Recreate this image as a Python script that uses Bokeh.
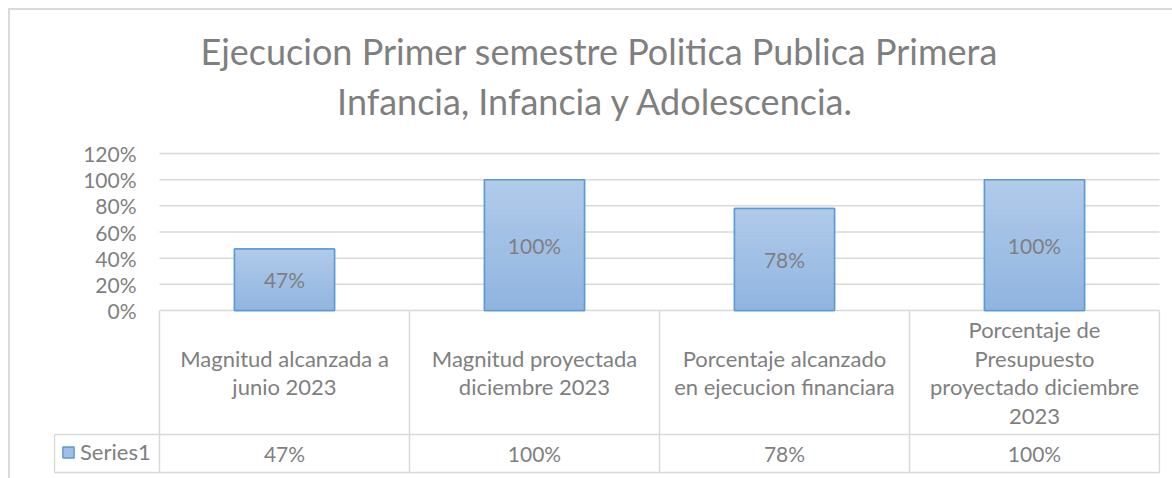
from bokeh.plotting import figure
from bokeh.models import (Range1d, FixedTicker, NumeralTickFormatter,
                          ColumnDataSource, Legend, LegendItem, Title)
from bokeh.core.properties import value
from bokeh.embed import file_html
from bokeh.resources import INLINE

# ---------------- data ----------------
categories = [
    "Magnitud alcanzada a junio 2023",
    "Magnitud proyectada diciembre 2023",
    "Porcentaje alcanzado en ejecucion financiara",
    "Porcentaje de Presupuesto proyectado diciembre 2023",
]
category_labels = [
    "Magnitud alcanzada a\njunio 2023",
    "Magnitud proyectada\ndiciembre 2023",
    "Porcentaje alcanzado\nen ejecucion financiara",
    "Porcentaje de\nPresupuesto\nproyectado diciembre\n2023",
]
series_name = "Series1"
series_values = [0.47, 1.00, 0.78, 1.00]
y_ticks = [0.0, 0.2, 0.4, 0.6, 0.8, 1.0, 1.2]
title_lines = ["Ejecucion Primer semestre Politica Publica Primera",
               "Infancia, Infancia y Adolescencia."]

# ---------------- style / layout (pixels) ----------------
FONT = "Lato"
TXT = "#7f7f7f"
GRID = "#d9d9d9"
BAR_LINE = "#5b9bd5"
TOP_RGB = (178, 203, 234)
BOT_RGB = (143, 180, 224)

W, H = 1172, 478
CELL_PX = 250.0              # width of one category column
PLOT_LEFT = 159              # x of value 0 column edge
FRAME_LEFT = 53
FRAME_RIGHT = 1160
FRAME_TOP = 88
FRAME_BOTTOM = 474
ZERO_Y = 310                 # pixel row of 0%
PLOT_PX = 157.0              # pixels for 0..1.2
KEY_LEFT = 54                # left edge of legend-key cell
ROW1_PX, ROW2_PX = 124.0, 38.0
TITLE_CX = 595.5             # horizontal centre of the title
TITLE2_BASE = 100            # anchor row of the second title line

PX_PER_UNIT = PLOT_PX / y_ticks[-1]
n = len(categories)
xc = [i + 0.5 for i in range(n)]
x_start = -(PLOT_LEFT - FRAME_LEFT) / CELL_PX
x_end = (FRAME_RIGHT - PLOT_LEFT) / CELL_PX
x_key = -(PLOT_LEFT - KEY_LEFT) / CELL_PX
y_end = (ZERO_Y - FRAME_TOP) / PX_PER_UNIT
y_start = -(FRAME_BOTTOM - ZERO_Y) / PX_PER_UNIT
y_row = -ROW1_PX / PX_PER_UNIT
y_bot = -(ROW1_PX + ROW2_PX) / PX_PER_UNIT

border_css = "linear-gradient(#dadada, #dadada)"
p = figure(width=W, height=H, output_backend="svg", toolbar_location=None,
           x_range=Range1d(x_start, x_end), y_range=Range1d(y_start, y_end),
           x_axis_location=None,
           min_border_left=FRAME_LEFT, min_border_right=W - FRAME_RIGHT,
           min_border_top=FRAME_TOP, min_border_bottom=H - FRAME_BOTTOM,
           background_fill_color="white", border_fill_color=None,
           styles={"background-color": "white",
                   "background-image": f"{border_css}, {border_css}",
                   "background-repeat": "no-repeat",
                   "background-position": "8px 8px, 8px 8px",
                   "background-size": "2px 470px, 1164px 2px"})
p.outline_line_color = None
p.grid.visible = False

# title line 1 as the plot title, line 2 just below it
p.add_layout(Title(text=title_lines[0], align="left", offset=200 - FRAME_LEFT,
                   standoff=32, text_font=FONT, text_font_size="36px",
                   text_font_style="normal", text_color=TXT), "above")
p.text(x=[(TITLE_CX - PLOT_LEFT) / CELL_PX], y=[(ZERO_Y - TITLE2_BASE) / PX_PER_UNIT],
       text=[title_lines[1]], text_align="center", text_baseline="alphabetic",
       text_font=value(FONT), text_font_size="36px", text_color=TXT)

yax = p.yaxis[0]
yax.fixed_location = 0
yax.ticker = FixedTicker(ticks=y_ticks)
yax.formatter = NumeralTickFormatter(format="0%")
yax.axis_line_color = None
yax.major_tick_line_color = None
yax.minor_tick_line_color = None
yax.major_tick_out = 0
yax.minor_tick_out = 0
yax.major_label_standoff = 23
yax.major_label_text_font = FONT
yax.major_label_text_font_size = "21px"
yax.major_label_text_color = TXT

# horizontal gridlines across the category columns
p.segment(x0=[0] * len(y_ticks), x1=[n] * len(y_ticks), y0=y_ticks, y1=y_ticks,
          line_color=GRID, line_width=1.5)

# ---------------- bars ----------------
src = ColumnDataSource(dict(x=xc, cat=categories, val=series_values,
                            mid=[v / 2 for v in series_values],
                            lab=[f"{round(v*100)}%" for v in series_values]))
base = p.vbar(x="x", top="val", bottom=0, width=0.4, source=src,
              fill_color="#a0bfe6", line_color=BAR_LINE, line_width=1.5)

# vertical gradient (style only): strips proportional to each bar's own value
N = 30
sx, sb, st, sc = [], [], [], []
for c, v in zip(xc, series_values):
    for i in range(N):
        f = (i + 0.5) / N
        rgb = tuple(int(round(BOT_RGB[k] + (TOP_RGB[k] - BOT_RGB[k]) * f)) for k in range(3))
        sx.append(c); sb.append(v * i / N); st.append(v * (i + 1) / N)
        sc.append("#%02x%02x%02x" % rgb)
p.vbar(x=sx, bottom=sb, top=st, width=0.4, fill_color=sc, line_color=None)
p.vbar(x="x", top="val", bottom=0, width=0.4, source=src,
       fill_color=None, line_color=BAR_LINE, line_width=1.5)

p.text(x="x", y="mid", text="lab", source=src, text_align="center",
       text_baseline="middle", text_font=value(FONT), text_font_size="21px",
       text_color=TXT)

# ---------------- data table ----------------
xs_b = list(range(n + 1))
p.segment(x0=xs_b, x1=xs_b, y0=[y_bot] * (n + 1), y1=[0] * (n + 1),
          line_color=GRID, line_width=1.5)
p.segment(x0=[x_key, x_key], x1=[n, n], y0=[y_row, y_bot], y1=[y_row, y_bot],
          line_color=GRID, line_width=1.5)
p.segment(x0=[x_key], x1=[x_key], y0=[y_bot], y1=[y_row],
          line_color=GRID, line_width=1.5)
p.text(x=xc, y=[y_row / 2] * n, text=category_labels, text_align="center",
       text_baseline="middle", text_font=value(FONT), text_font_size="22px",
       text_color=TXT, text_line_height=1.06)
p.text(x=xc, y=[(y_row + y_bot) / 2] * n, text=src.data["lab"],
       text_align="center", text_baseline="middle", text_font=value(FONT),
       text_font_size="21px", text_color=TXT)

leg = Legend(items=[LegendItem(label=series_name, renderers=[base])],
             location=(8, 9), padding=4, margin=0, border_line_color=None,
             background_fill_alpha=0, glyph_width=14, glyph_height=14,
             label_standoff=5, label_text_font=FONT, label_text_font_size="22px",
             label_text_color=TXT, spacing=0)
p.add_layout(leg, "center")

open("out.html", "w").write(file_html(p, INLINE))
